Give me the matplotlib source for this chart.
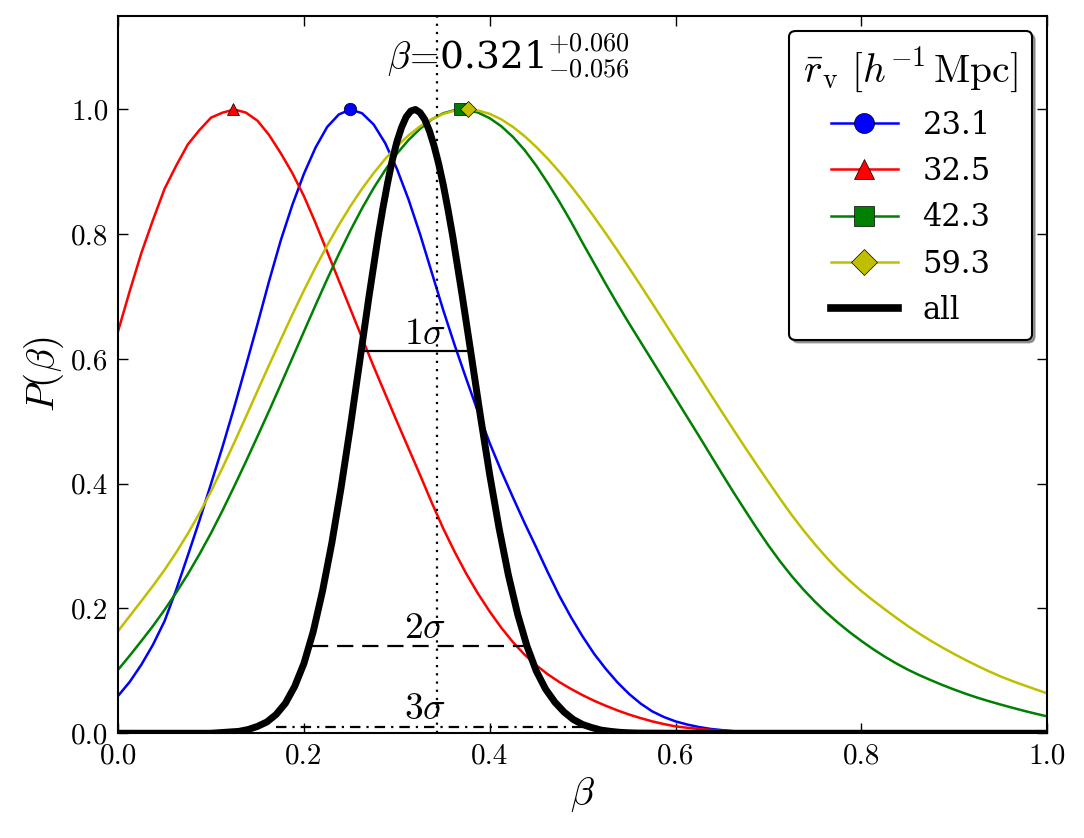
"""Likelihood of beta for the void-size bins and their combination."""

import matplotlib

matplotlib.use("Agg")
import matplotlib.pyplot as plt
import numpy as np
from matplotlib.lines import Line2D

plt.rcParams["font.family"] = "serif"
plt.rcParams["font.serif"] = ["DejaVu Serif"]
plt.rcParams["mathtext.fontset"] = "cm"

# beta grid for the four bins (step 0.0125)
beta = np.linspace(0.0, 1.0, 81)

p_231 = [0.060, 0.0825, 0.110, 0.142, 0.180, 0.230, 0.285, 0.341, 0.400, 0.460,
         0.523, 0.589, 0.656, 0.725, 0.790, 0.847, 0.897, 0.939, 0.972, 0.992,
         1.000, 0.994, 0.976, 0.946, 0.905, 0.856, 0.800, 0.739, 0.678, 0.621,
         0.567, 0.5145, 0.465, 0.420, 0.378, 0.337, 0.298, 0.258, 0.220, 0.186,
         0.155, 0.127, 0.103, 0.0815, 0.063, 0.0475, 0.035, 0.026, 0.019, 0.014,
         0.010, 0.007, 0.005, 0.0033, 0.002, 0.0014, 0.001, 0.0005, 0.0, 0.0,
         0.0, 0.0, 0.0, 0.0, 0.0, 0.0, 0.0, 0.0, 0.0, 0.0,
         0.0, 0.0, 0.0, 0.0, 0.0, 0.0, 0.0, 0.0, 0.0, 0.0,
         0.0]
p_325 = [0.645, 0.709, 0.770, 0.823, 0.873, 0.910, 0.944, 0.967, 0.987, 0.995,
         1.000, 0.995, 0.982, 0.959, 0.930, 0.898, 0.861, 0.818, 0.772, 0.726,
         0.680, 0.634, 0.588, 0.544, 0.500, 0.457, 0.414, 0.370, 0.328, 0.290,
         0.255, 0.2235, 0.195, 0.169, 0.146, 0.126, 0.109, 0.0945, 0.082, 0.071,
         0.061, 0.052, 0.044, 0.0366, 0.030, 0.0242, 0.019, 0.0147, 0.011, 0.0088,
         0.007, 0.0054, 0.004, 0.003, 0.002, 0.0015, 0.001, 0.0005, 0.0, 0.0,
         0.0, 0.0, 0.0, 0.0, 0.0, 0.0, 0.0, 0.0, 0.0, 0.0,
         0.0, 0.0, 0.0, 0.0, 0.0, 0.0, 0.0, 0.0, 0.0, 0.0,
         0.0]
p_423 = [0.102, 0.1245, 0.148, 0.172, 0.198, 0.2255, 0.255, 0.287, 0.321, 0.3576,
         0.396, 0.4355, 0.476, 0.517, 0.559, 0.6015, 0.644, 0.6864, 0.728, 0.768,
         0.806, 0.8414, 0.874, 0.903, 0.929, 0.951, 0.969, 0.984, 0.994, 0.999,
         1.000, 0.995, 0.986, 0.973, 0.956, 0.935, 0.910, 0.882, 0.852, 0.820,
         0.786, 0.753, 0.720, 0.688, 0.657, 0.627, 0.597, 0.567, 0.537, 0.507,
         0.477, 0.4465, 0.416, 0.386, 0.357, 0.3284, 0.301, 0.2756, 0.252, 0.2306,
         0.211, 0.1932, 0.177, 0.1619, 0.148, 0.135, 0.123, 0.112, 0.102, 0.0931,
         0.085, 0.0772, 0.070, 0.0632, 0.057, 0.0513, 0.046, 0.0409, 0.036, 0.0314,
         0.027]
p_593 = [0.164, 0.188, 0.212, 0.2364, 0.262, 0.2899, 0.320, 0.3527, 0.388, 0.4261,
         0.466, 0.5072, 0.549, 0.5903, 0.631, 0.6711, 0.710, 0.747, 0.782, 0.8147,
         0.845, 0.8728, 0.898, 0.9208, 0.941, 0.9584, 0.973, 0.9846, 0.993, 0.9982,
         1.000, 0.9983, 0.993, 0.9841, 0.972, 0.9572, 0.940, 0.9209, 0.900, 0.8773,
         0.853, 0.8275, 0.801, 0.7738, 0.746, 0.7177, 0.689, 0.6601, 0.631, 0.602,
         0.573, 0.5439, 0.515, 0.4863, 0.458, 0.4302, 0.403, 0.376, 0.350, 0.3257,
         0.303, 0.2817, 0.262, 0.2443, 0.228, 0.2131, 0.199, 0.1852, 0.172, 0.1596,
         0.148, 0.1372, 0.127, 0.1172, 0.108, 0.0992, 0.091, 0.0837, 0.077, 0.0704,
         0.064]

# combined likelihood, finer grid around the peak
beta_all = np.concatenate([[0.0], np.linspace(0.10, 0.27, 18),
                           np.linspace(0.28, 0.355, 16),
                           np.linspace(0.36, 0.56, 21), [0.60, 1.0]])
p_all = [0.0,
         0.000, 0.001, 0.002, 0.003, 0.006, 0.011, 0.018, 0.030, 0.048, 0.075,
         0.112, 0.163, 0.228, 0.305, 0.394, 0.492, 0.596, 0.700,
         0.798, 0.842, 0.882, 0.918, 0.948, 0.971, 0.988, 0.9975, 1.000, 0.995,
         0.984, 0.966, 0.942, 0.913, 0.879, 0.840,
         0.798, 0.705, 0.607, 0.508, 0.414, 0.329, 0.254, 0.191, 0.140, 0.100,
         0.071, 0.050, 0.034, 0.022, 0.014, 0.009, 0.005, 0.003, 0.0015, 0.0007,
         0.0003,
         0.0, 0.0]

labels = ["23.1", "32.5", "42.3", "59.3"]
colors = ["b", "r", "g", "y"]
markers = ["o", "^", "s", "D"]
peak_beta = [0.250, 0.124, 0.368, 0.377]

beta_best = 0.343
sig_levels = [0.613, 0.140, 0.0106]
sig_lo = [0.265, 0.209, 0.170]
sig_hi = [0.378, 0.440, 0.500]
sig_styles = ["-", (0, (7.3, 4)), (0, (4.7, 2.7, 1, 2.7))]
sig_text = [r"$1\sigma$", r"$2\sigma$", r"$3\sigma$"]
sig_text_y = [0.624, 0.152, 0.023]

fig = plt.figure(figsize=(10.84, 8.38), dpi=100)
ax = fig.add_axes([0.109, 0.125, 0.857, 0.856])

handles = []
for p, c, m, pb in zip([p_231, p_325, p_423, p_593], colors, markers, peak_beta):
    ax.plot(beta, p, color=c, lw=1.8)
    ms = 8 if m == "D" else 9
    ax.plot([pb], [1.0], linestyle="none", marker=m, color=c, ms=ms,
            mec="k", mew=0.5, zorder=3)
    handles.append(Line2D([], [], color=c, lw=1.8, marker=m, ms=ms * 1.6,
                          mec="k", mew=0.5))

ax.plot(beta_all, p_all, color="k", lw=5, zorder=4)
handles.append(Line2D([], [], color="k", lw=5.5))

ax.axvline(beta_best, color="k", lw=1.6, linestyle=(0, (1, 2.7)), zorder=5)
for lev, lo, hi, ls, txt, ty in zip(sig_levels, sig_lo, sig_hi, sig_styles,
                                    sig_text, sig_text_y):
    ax.plot([lo, hi], [lev, lev], color="k", lw=1.6, linestyle=ls, zorder=5)
    ax.text(0.330, ty, txt, fontsize=27, ha="center", va="baseline", zorder=6)

ax.text(0.2895, 1.065, r"$\beta\!=\!$0.321$^{+0.060}_{-0.056}$", fontsize=27,
        ha="left", va="baseline")

ax.set_xlim(0, 1)
ax.set_ylim(0, 1.15)
ax.set_xticks([0.0, 0.2, 0.4, 0.6, 0.8, 1.0])
ax.set_yticks([0.0, 0.2, 0.4, 0.6, 0.8, 1.0])
ax.tick_params(direction="in", top=True, right=True, length=7, width=1,
               labelsize=21, pad=7)
for t in ax.get_xticklabels() + ax.get_yticklabels():
    t.set_fontfamily("cmr10")
for s in ax.spines.values():
    s.set_linewidth(1.5)

ax.set_xlabel(r"$\beta$", fontsize=28, labelpad=4)
ax.set_ylabel(r"$P(\beta)$", fontsize=28, labelpad=4)

leg = ax.legend(handles, labels + ["all"], loc="upper right",
                title=r"$\bar{r}_{\rm v}\ [h^{-1}\,{\rm Mpc}]$",
                fontsize=22, title_fontsize=28.5, fancybox=True, shadow=True,
                handlelength=2.2, labelspacing=0.5, borderpad=0.45,
                framealpha=1.0, edgecolor="k")
leg.get_frame().set_linewidth(1.5)
leg.set_zorder(10)

fig.savefig("out.png", dpi=100)
plt.close(fig)
